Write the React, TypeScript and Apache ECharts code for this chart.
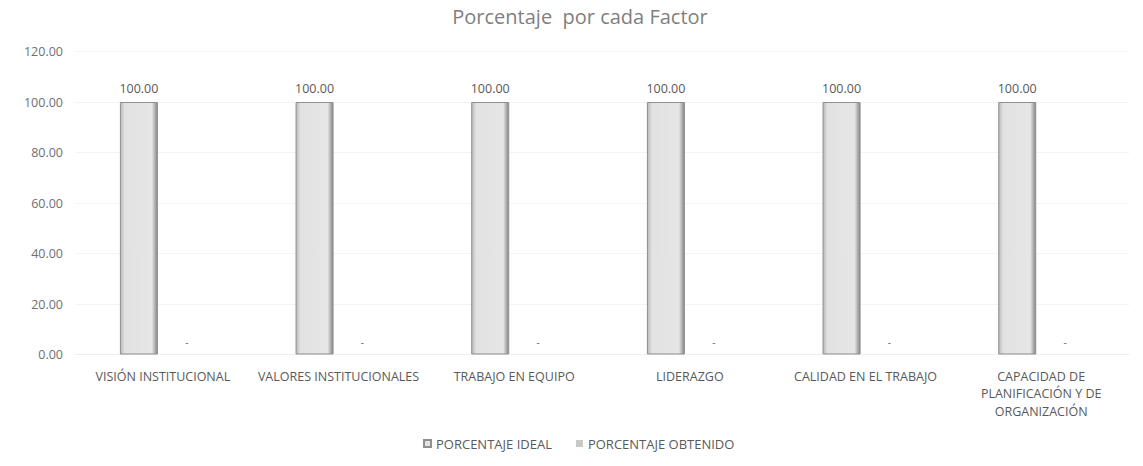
import React, { useEffect, useRef } from "react";
import * as echarts from "echarts";

const categories = [
  "VISIÓN INSTITUCIONAL",
  "VALORES INSTITUCIONALES",
  "TRABAJO EN EQUIPO",
  "LIDERAZGO",
  "CALIDAD EN EL TRABAJO",
  "CAPACIDAD DE\nPLANIFICACIÓN Y DE\nORGANIZACIÓN",
];
const idealValues = [100, 100, 100, 100, 100, 100];
const obtainedValues = [0, 0, 0, 0, 0, 0];
const seriesNames = ["PORCENTAJE IDEAL", "PORCENTAJE OBTENIDO"];
const titleText = "Porcentaje  por cada Factor";

const FONT = "'Open Sans', 'Noto Sans', sans-serif";

export default function App() {
  const ref = useRef<HTMLDivElement>(null);
  useEffect(() => {
    if (!ref.current) return;
    document.body.style.margin = "0";
    const chart = echarts.init(ref.current, null, { renderer: "svg" });
    const barColor = new echarts.graphic.LinearGradient(0, 0, 1, 0, [
      { offset: 0, color: "#b8b8b8" },
      { offset: 0.12, color: "#e2e2e2" },
      { offset: 0.85, color: "#e6e6e6" },
      { offset: 1, color: "#858585" },
    ]);
    chart.setOption({
      animation: false,
      backgroundColor: "#ffffff",
      textStyle: { fontFamily: FONT },
      title: {
        text: titleText,
        left: 580,
        top: 6,
        padding: 0,
        textAlign: "center",
        textStyle: { fontFamily: FONT, fontSize: 20, fontWeight: "normal", color: "#7f7f7f" },
      },
      legend: {
        data: seriesNames,
        top: 432,
        left: 418,
        itemWidth: 7,
        itemHeight: 7,
        itemGap: 24,
        icon: "rect",
        textStyle: { fontFamily: FONT, fontSize: 13, color: "#595959" },
      },
      grid: { left: 75, right: 14, top: 51.5, bottom: 111.5, containLabel: false },
      xAxis: {
        type: "category",
        data: categories,
        axisLine: { show: true, lineStyle: { color: "#eeeeee" } },
        axisTick: { show: false },
        axisLabel: {
          interval: 0,
          fontFamily: FONT,
          fontSize: 12.5,
          color: "#595959",
          margin: 13,
          lineHeight: 17.5,
        },
      },
      yAxis: {
        type: "value",
        min: 0,
        max: 120,
        interval: 20,
        axisLine: { show: false },
        axisTick: { show: false },
        splitLine: { lineStyle: { color: "#f3f3f3" } },
        axisLabel: {
          formatter: (v: number) => v.toFixed(2),
          fontFamily: FONT,
          fontSize: 12.5,
          color: "#6f6f6f",
          margin: 12,
        },
      },
      series: [
        {
          name: seriesNames[0],
          type: "bar",
          data: idealValues,
          barWidth: 38,
          barGap: "26%",
          itemStyle: { color: barColor, borderColor: "#8f8f8f", borderWidth: 1 },
          label: {
            show: true,
            position: "top",
            distance: 7,
            formatter: (p: any) => Number(p.value).toFixed(2),
            fontFamily: FONT,
            fontSize: 12.5,
            color: "#595959",
          },
        },
        {
          name: seriesNames[1],
          type: "bar",
          data: obtainedValues,
          barWidth: 38,
          itemStyle: { color: "#c8c8c8", borderColor: "#999999", borderWidth: 0 },
          label: {
            show: true,
            position: "top",
            distance: 8,
            formatter: () => "-",
            fontFamily: FONT,
            fontSize: 10,
            color: "#666666",
          },
        },
      ],
    });
    return () => chart.dispose();
  }, []);
  return <div ref={ref} style={{ width: 1143, height: 466 }} />;
}
